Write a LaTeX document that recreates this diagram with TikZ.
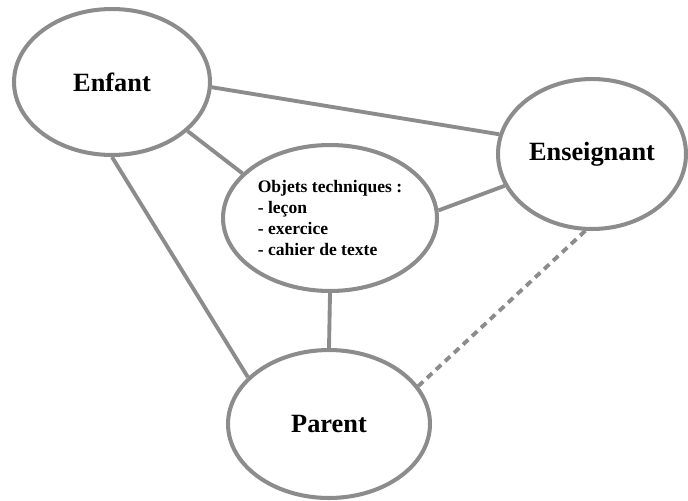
\documentclass[tikz,border=0pt]{standalone}
\usepackage{fontspec}
\setmainfont{Liberation Serif}
\usetikzlibrary{shapes.geometric}
\usepackage{xcolor}
\definecolor{traitgris}{RGB}{140,140,140}
\tikzset{
	pole/.style={ellipse,draw=traitgris,line width=2.3pt,inner sep=0pt,font=\fontsize{15}{18}\selectfont\bfseries},
	lien/.style={draw=traitgris,line width=2.2pt},
	lienpointille/.style={lien,dash pattern=on 4pt off 3pt}
}
\newcommand{\relie}[2]{\draw[lien] (#1) -- (#2);}
\newcommand{\reliepointille}[2]{\draw[lienpointille] (#1) -- (#2);}

\begin{document}
\begin{tikzpicture}[x=0.02cm,y=-0.02cm]

		\useasboundingbox (0,0) rectangle (688,500);

    \node[pole,minimum width=3.92cm,minimum height=2.92cm] (enfant) at (112,82) {Enfant};
    \node[pole,minimum width=3.76cm,minimum height=3.0cm] (enseignant) at (592,154) {Enseignant};
    \node[pole,minimum width=4.28cm,minimum height=2.92cm,align=left,
          font=\fontsize{10}{12}\selectfont\bfseries] (objets) at (330,218)
          {Objets techniques :\\- leçon\\- exercice\\- cahier de texte};
    \node[pole,minimum width=4.04cm,minimum height=2.96cm] (parent) at (329,424) {Parent};

    \relie{enfant.-3}{enseignant.168}
    \relie{enfant.-33}{objets.153}
    \relie{enfant.-90}{parent.150}
    \relie{objets.4}{enseignant.200}
    \relie{objets.-90}{parent.90}

    \reliepointille{enseignant.-95}{parent.23}
    \end{tikzpicture}
\end{document}
